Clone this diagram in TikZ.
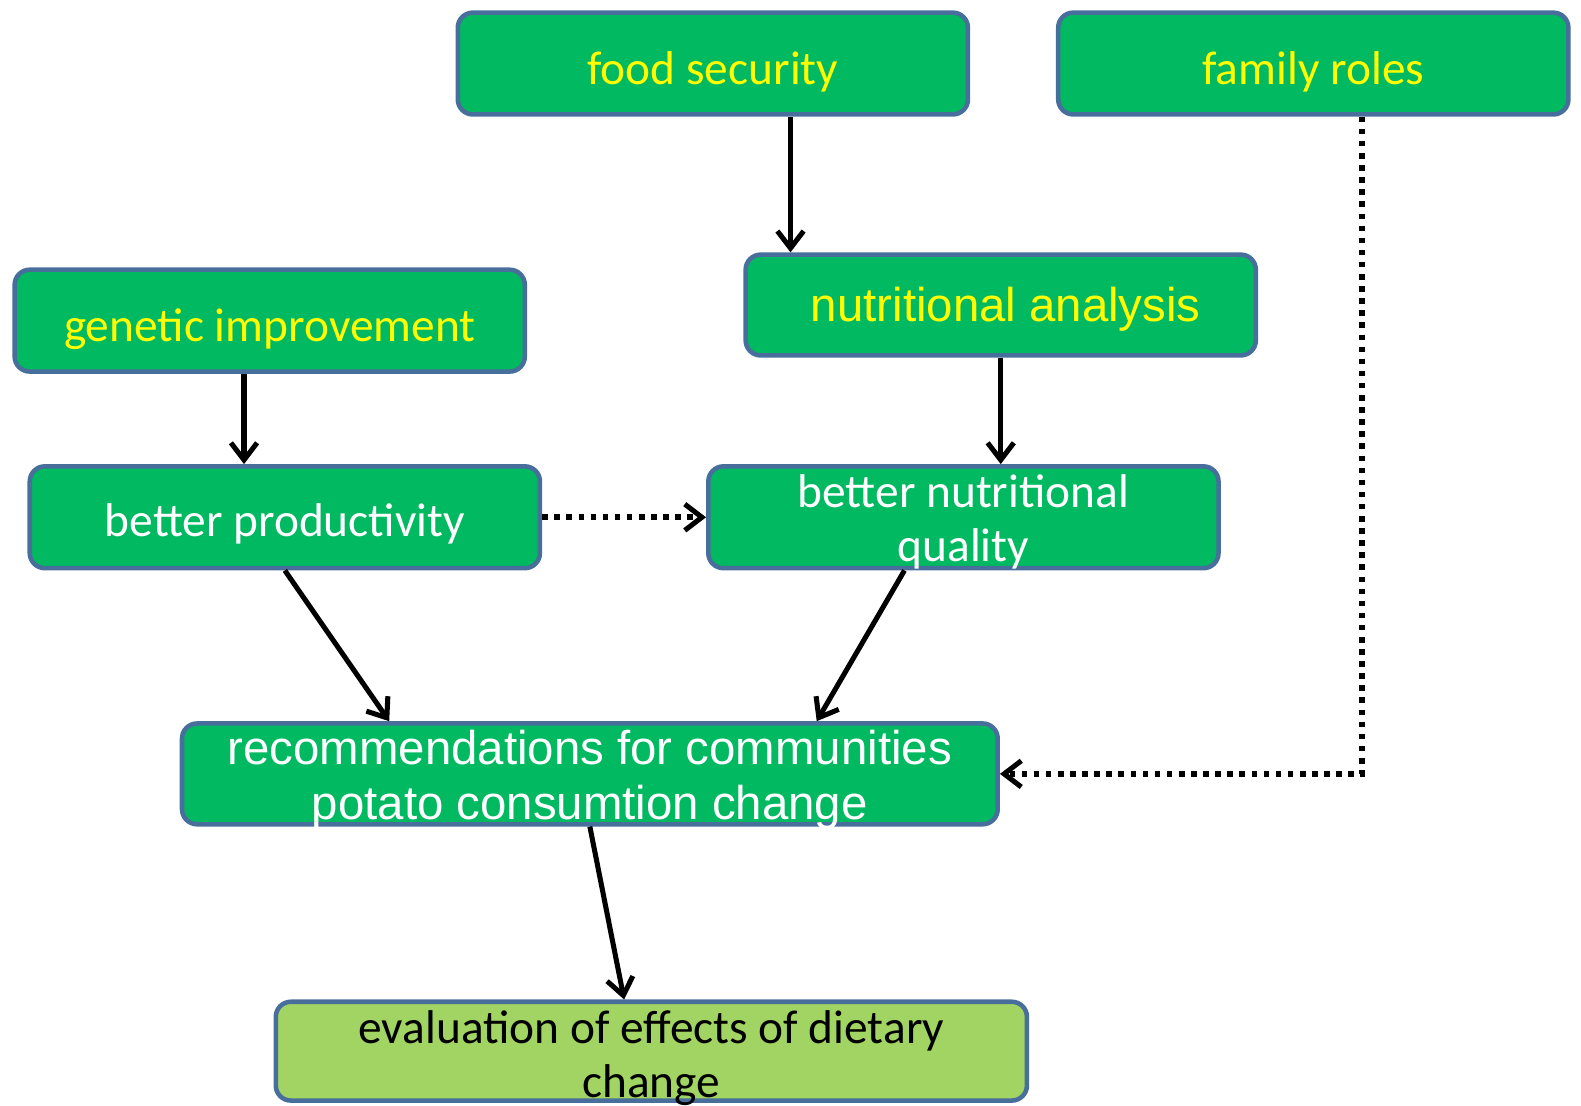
\documentclass[tikz,border=0pt]{standalone}
\usepackage{fontspec}
\setmainfont{Carlito}
\newfontfamily\arifont{Liberation Sans}
\newfontfamily\calfont{Carlito}
\usetikzlibrary{arrows.meta,calc}
\definecolor{boxgreen}{RGB}{0,185,97}
\definecolor{lightgreen}{RGB}{161,212,98}
\definecolor{boxborder}{RGB}{72,110,156}
\definecolor{txtyellow}{RGB}{255,255,0}
\begin{document}
\begin{tikzpicture}[x=1pt,y=-1pt,
  box/.style={draw=boxborder,line width=4.5pt,fill=boxgreen,rounded corners=15pt,
    minimum width=506pt,minimum height=101pt,inner sep=0pt},
  lbl/.style={inner sep=0pt,anchor=base,align=center,font=\calfont\fontsize{47}{54}\selectfont},
  albl/.style={inner sep=0pt,anchor=base,align=center,font=\arifont\fontsize{47}{55}\selectfont},
  arr/.style={line width=5pt,-{Straight Barb[length=17pt,width=26pt]}},
  dotarr/.style={line width=5.5pt,dash pattern=on 5.5pt off 6.5pt,-{Straight Barb[length=17pt,width=26pt,line width=5pt]}}
]
\useasboundingbox (0,0) rectangle (1568,1096);
% boxes
\node[box] (fs) at (707,63) {};
\node[box] (fr) at (1302.5,63) {};
\node[box] (gi) at (267.5,318) {};
\node[box,minimum height=100pt] (na) at (992.5,302.5) {};
\node[box] (bp) at (282.5,513) {};
\node[box] (bnq) at (955.5,513) {};
\node[box,minimum width=809pt,minimum height=100pt] (rec) at (585,767.5) {};
\node[box,fill=lightgreen,minimum width=745pt,minimum height=98pt] (ev) at (646,1042.5) {};
% texts
\node[lbl,text=txtyellow] (fs-t) at ([yshift=-21pt]fs.center) {food security};
\node[lbl,text=txtyellow] (fr-t) at ([yshift=-21pt]fr.center) {family roles};
\node[lbl,text=txtyellow] (gi-t) at ([yshift=-21pt]gi.center) {genetic improvement};
\node[albl,text=txtyellow] (na-t) at ([xshift=5pt,yshift=-16pt]na.center) {nutritional analysis};
\node[lbl,text=white] (bp-t) at ([yshift=-19pt]bp.center) {better productivity};
\node[lbl,text=white] (bnq-t) at ([yshift=-44pt]bnq.center) {better nutritional\\quality};
\node[albl,text=white] (rec-t) at ([yshift=-45.5pt]rec.center) {recommendations for communities\\potato consumtion change};
\node[lbl,text=black] (ev-t) at ([yshift=-46pt]ev.center) {evaluation of effects of dietary\\change};
% helper x positions
\coordinate (c1) at (784,0);
\coordinate (c2) at (242,0);
\coordinate (c3) at (386,0);
\coordinate (c4) at (897,0);
\coordinate (c5) at (810,0);
\coordinate (c6) at (619,0);
\coordinate (c7) at (1351,0);
% connectors
\draw[arr] (fs.south -| c1) -- (na.north -| c1);
\draw[arr] (gi.south -| c2) -- (bp.north -| c2);
\draw[arr] (na.south) -- (na.south |- bnq.north);
\draw[dotarr] (bp.east) -- (bnq.west);
\draw[arr] (bp.south) -- (rec.north -| c3);
\draw[arr] (bnq.south -| c4) -- (rec.north -| c5);
\draw[arr] (rec.south) -- (ev.north -| c6);
\draw[dotarr] (fr.south -| c7) |- (rec.east);
\end{tikzpicture}
\end{document}
